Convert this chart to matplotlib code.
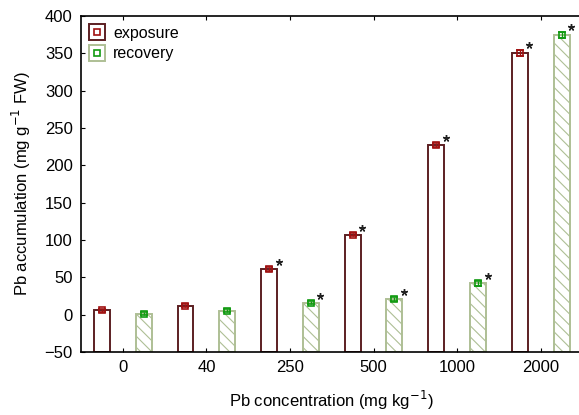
import matplotlib
matplotlib.use('Agg')
import matplotlib.pyplot as plt
from matplotlib.lines import Line2D
from matplotlib.legend_handler import HandlerTuple
import numpy as np

plt.rcParams['font.family'] = ['Liberation Sans', 'DejaVu Sans']
plt.rcParams['hatch.linewidth'] = 0.8

conc = ['0', '40', '250', '500', '1000', '2000']
exposure = [6, 12, 61, 107, 227, 350]
exposure_err = [2, 2, 3, 2, 3, 4]
recovery = [1, 5, 16, 21, 42, 374]
recovery_err = [2, 2, 2, 3, 3, 4]
exp_sig = [False, False, True, True, True, True]
rec_sig = [False, False, True, True, True, True]

ymin = -50

fig = plt.figure(figsize=(5.79, 4.15), dpi=100)
ax = fig.add_axes([81 / 579, 63 / 415, 501.5 / 579, 336 / 415])

x = np.arange(len(conc))
off = 0.25
w = 0.19

exp_h = [v - ymin for v in exposure]
rec_h = [v - ymin for v in recovery]
ax.bar(x - off, exp_h, bottom=ymin, width=w, facecolor='white', edgecolor='#5c1f22', linewidth=1.4, zorder=2)
ax.bar(x + off, rec_h, bottom=ymin, width=w, facecolor='white', edgecolor='#aebf95', linewidth=1.4,
       hatch='\\\\\\', zorder=2)
ax.errorbar(x - off, exposure, yerr=exposure_err, fmt='s', mfc='none', mec='#a01010', ecolor='#a01010',
            ms=4.5, mew=1.2, capsize=3, elinewidth=1, zorder=3)
ax.errorbar(x + off, recovery, yerr=recovery_err, fmt='s', mfc='none', mec='#109a10', ecolor='#109a10',
            ms=4.5, mew=1.2, capsize=3, elinewidth=1, zorder=3)

for i in range(len(conc)):
    if exp_sig[i]:
        ax.plot(x[i] - off + w / 2 + 0.02, exposure[i] + exposure_err[i] + 7, marker=(5, 2, 0),
                ms=5, mew=1.0, color='#222222', zorder=4)
    if rec_sig[i]:
        ax.plot(x[i] + off + w / 2 + 0.02, recovery[i] + recovery_err[i] + 7, marker=(5, 2, 0),
                ms=5, mew=1.0, color='#222222', zorder=4)

ax.set_xlim(-0.5, 5.5)
ax.set_ylim(ymin, 400)
ax.set_xticks(x)
ax.set_xticklabels(conc)
ax.set_yticks(np.arange(-50, 401, 50))
ax.tick_params(direction='in', top=True, right=True, labelsize=12, length=3, pad=6)
for s in ax.spines.values():
    s.set_linewidth(1.2)

ax.set_xlabel('Pb concentration (mg kg$^{-1}$)', fontsize=12, labelpad=10)
ax.set_ylabel('Pb accumulation (mg g$^{-1}$ FW)', fontsize=12, labelpad=8)

h_exp = (Line2D([], [], ls='none', marker='s', ms=12, mfc='none', mec='#5c1f22', mew=1.4),
         Line2D([], [], ls='none', marker='s', ms=5, mfc='none', mec='#a01010', mew=1.2))
h_rec = (Line2D([], [], ls='none', marker='s', ms=12, mfc='none', mec='#aebf95', mew=1.4),
         Line2D([], [], ls='none', marker='s', ms=5, mfc='none', mec='#109a10', mew=1.2))
ax.legend([h_exp, h_rec], ['exposure', 'recovery'], handler_map={tuple: HandlerTuple(ndivide=1)},
          loc='upper left', frameon=False, fontsize=11.5, handlelength=0.8, handletextpad=0.6,
          borderaxespad=0.2, labelspacing=0.35)

fig.savefig('out.png', dpi=100)
